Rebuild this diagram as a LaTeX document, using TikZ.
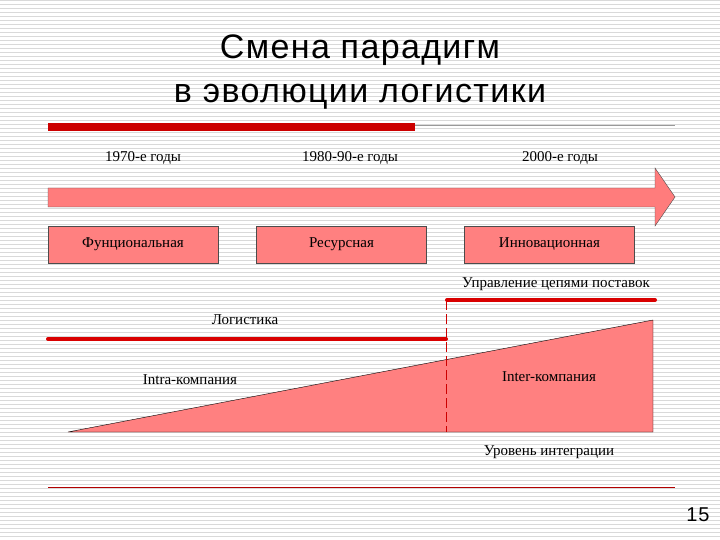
\documentclass[tikz,border=0pt]{standalone}
\usepackage{fontspec}
\setmainfont{Liberation Serif}
\newfontfamily\titlefont[LetterSpace=4]{Liberation Sans}
\begin{document}
\begin{tikzpicture}[x=1pt,y=-1pt,
  lbl/.style={font=\fontsize{15}{17}\selectfont},
  stagebox/.style={draw=black!70,fill=red!50,minimum width=170pt,minimum height=37pt,inner sep=0pt,font=\fontsize{15}{17}\selectfont},
  redline/.style={draw=red!85!black,line width=4pt,line cap=round}]
\useasboundingbox (0,0) rectangle (720,540);
\fill[white] (0,0) rectangle (720,540);
\foreach \yy in {0,4,...,540} \draw[black!15,line width=0.6pt] (0,\yy) -- (720,\yy);
\node[font=\titlefont\fontsize{34}{38}\selectfont] (t1) at (360,50) {Смена парадигм};
\node[font=\titlefont\fontsize{34}{38}\selectfont] (t2) at (360,97) {в эволюции логистики};
\fill[red!80!black] (48,123) rectangle (415,131);
\draw[black!40,line width=0.6pt] (415,125) -- (675,125);
\draw[red!70!black,line width=0.6pt] (48,487) -- (675,487);
\node[font=\titlefont\fontsize{20}{24}\selectfont] (pg) at (698,515) {15};
\node[lbl] (y1) at (143,158) {1970-е годы};
\node[lbl] (y2) at (350,158) {1980-90-е годы};
\node[lbl] (y3) at (560,158) {2000-е годы};
\draw[black!70,fill=red!35!pink] (48,188) -- (655,188) -- (655,168) -- (675,197) -- (655,226) -- (655,207) -- (48,207) -- cycle;
\node[stagebox] (b1) at (133,244.5) {Фунциональная};
\node[stagebox] (b2) at (341.5,244.5) {Ресурсная};
\node[stagebox] (b3) at (549.5,244.5) {Инновационная};
\draw[black,fill=red!50] (68,432) -- (653,320) -- (653,432) -- cycle;
\coordinate (ls) at (48,339); \coordinate (le) at (446,339);
\coordinate (ss) at (447,300); \coordinate (se) at (655,300);
\coordinate (dt) at (446,300); \coordinate (db) at (446,432);
\draw[red!80!black,dash pattern=on 10pt off 4pt] (dt) -- (db);
\draw[redline] (ls) -- (le);
\draw[redline] (ss) -- (se);
\node[lbl] (sc) at (556,284) {Управление цепями поставок};
\node[lbl] (lg) at (245,320) {Логистика};
\node[lbl] (ia) at (190,380) {Intra-компания};
\node[lbl] (ie) at (549,377) {Inter-компания};
\node[lbl] (ui) at (549,452) {Уровень интеграции};
\end{tikzpicture}
\end{document}
